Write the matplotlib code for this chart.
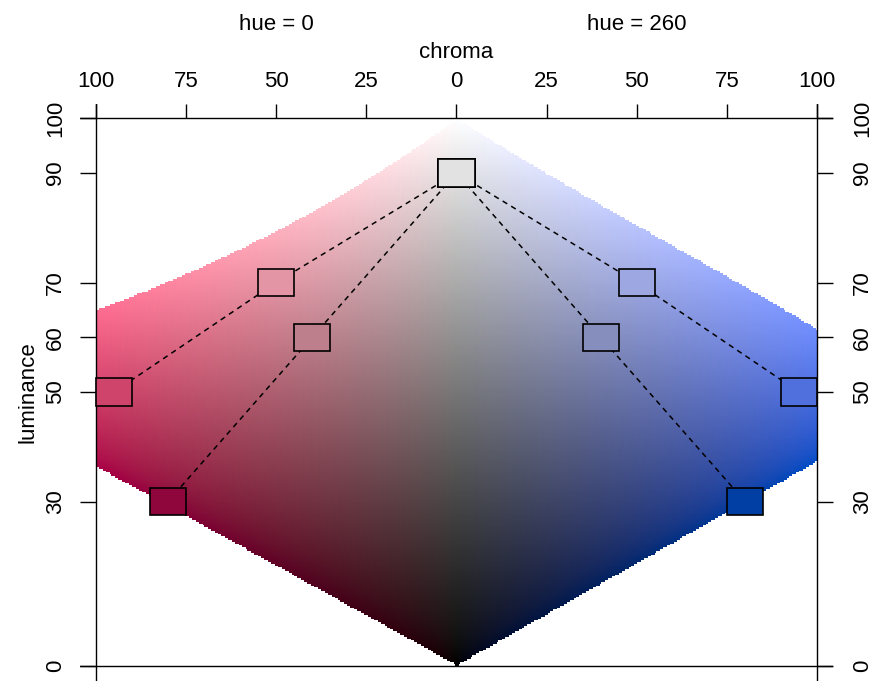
import numpy as np
import matplotlib
matplotlib.use("Agg")
import matplotlib.pyplot as plt
from matplotlib.patches import Rectangle

# ---- data -------------------------------------------------------------
hue_left = 0          # hue shown on the left half
hue_right = 260       # hue shown on the right half
path_a_chroma = [95, 50, 0]
path_a_lum = [50, 70, 90]
path_b_chroma = [80, 40, 0]
path_b_lum = [30, 60, 90]
chroma_ticks = [-100, -75, -50, -25, 0, 25, 50, 75, 100]
chroma_ticklabels = ["100", "75", "50", "25", "0", "25", "50", "75", "100"]
lum_ticks = [0, 30, 50, 60, 70, 90, 100]
lum_ticklabels = ["0", "30", "50", "60", "70", "90", "100"]

plt.rcParams["font.family"] = ["Liberation Sans", "DejaVu Sans"]
FS = 16


def hcl_to_rgb(h, c, l):
    h = np.asarray(h, float)
    c = np.asarray(c, float)
    l = np.asarray(l, float)
    XN, YN, ZN = 95.047, 100.0, 108.883
    U = c * np.cos(np.deg2rad(h))
    V = c * np.sin(np.deg2rad(h))
    Y = np.where(l > 7.999592, YN * ((l + 16) / 116) ** 3, YN * l / 903.3)
    den = XN + 15 * YN + 3 * ZN
    uN = 4 * XN / den
    vN = 9 * YN / den
    ls = np.where(l <= 0, 1e-9, l)
    u = U / (13 * ls) + uN
    v = V / (13 * ls) + vN
    X = 9.0 * Y * u / (4 * v)
    Z = -X / 3 - 5 * Y + 3 * Y / v
    X, Y, Z = X / 100, Y / 100, Z / 100
    R = 3.240479 * X - 1.537150 * Y - 0.498535 * Z
    G = -0.969256 * X + 1.875992 * Y + 0.041556 * Z
    B = 0.055648 * X - 0.204043 * Y + 1.057311 * Z
    lin = np.stack([R, G, B], axis=-1)
    black = (l <= 0) & (c <= 0.5)
    lin = np.where(black[..., None], 0.0, lin)
    ok = np.all((lin >= -1e-6) & (lin <= 1 + 1e-6), axis=-1)
    ok = ok & ~((l <= 0) & (c > 0.5))
    linc = np.clip(np.nan_to_num(lin), 0, 1)
    rgb = np.where(linc > 0.00304, 1.055 * linc ** (1 / 2.4) - 0.055, 12.92 * linc)
    return np.clip(rgb, 0, 1), ok


# ---- figure -------------------------------------------------------------
W, H = 876, 681
fig = plt.figure(figsize=(W / 100, H / 100), dpi=100)
ax = fig.add_axes([80 / W, 0, (833 - 80) / W, (681 - 104) / H])
ax.set_xlim(-104.35, 104.35)
ax.set_ylim(-2.74, 102.6)
for s in ax.spines.values():
    s.set_visible(False)

# HCL plane background
ncol, nrow = 420, 300
xs = np.linspace(-100, 100, ncol)
ys = np.linspace(0, 100, nrow)
XX, LL = np.meshgrid(xs, ys)
HH = np.where(XX < 0, hue_left, hue_right)
CC = np.abs(XX)
with np.errstate(all="ignore"):
    rgb, ok = hcl_to_rgb(HH, CC, LL)
rgba = np.concatenate([rgb, ok[..., None].astype(float)], axis=-1)
ax.imshow(rgba, extent=[-100, 100, 0, 100], origin="lower",
          interpolation="nearest", aspect="auto", zorder=0)

# frame lines
for yv in (0, 100):
    ax.axhline(yv, color="black", lw=1.0, zorder=2)
for xv in (-100, 100):
    ax.axvline(xv, color="black", lw=1.0, zorder=2)

# palette paths
for hue, sign in ((hue_left, -1), (hue_right, 1)):
    for cs, ls_ in ((path_a_chroma, path_a_lum), (path_b_chroma, path_b_lum)):
        xv = [sign * c for c in cs]
        ax.plot(xv, ls_, color="black", lw=1.1, linestyle=(0, (3.5, 3)), zorder=3)
        cols, _ = hcl_to_rgb(np.full(len(cs), hue), np.array(cs), np.array(ls_))
        for x, yv, col in zip(xv, ls_, cols):
            ax.add_patch(Rectangle((x - 5, yv - 2.5), 10, 5, facecolor=col,
                                   edgecolor="black", lw=1.2, zorder=4))

# ticks
ax.set_xticks(chroma_ticks)
ax.set_xticklabels(chroma_ticklabels)
ax.tick_params(axis="x", which="major", direction="in", length=10.3, width=1.0,
               top=True, bottom=False, labeltop=True, labelbottom=False,
               pad=12.2, labelsize=FS)
ax.set_xticks([0], minor=True)
ax.tick_params(axis="x", which="minor", direction="in", length=11, width=1.0,
               top=False, bottom=True, labelbottom=False)
for t in ax.xaxis.get_major_ticks():
    t.label2.set_va("baseline")

ax.set_yticks(lum_ticks)
ax.set_yticklabels(lum_ticklabels)
ax.tick_params(axis="y", direction="in", length=11.3, width=1.0,
               left=True, right=True, labelleft=True, labelright=True,
               pad=13.6, labelsize=FS)
for t in ax.yaxis.get_major_ticks():
    for lab, va in ((t.label1, "baseline"), (t.label2, "top")):
        lab.set_rotation(90)
        lab.set_rotation_mode("anchor")
        lab.set_ha("center")
        lab.set_va(va)

# titles
ax.annotate("hue = 0", xy=(-50, 1), xycoords=("data", "axes fraction"),
            xytext=(0, 53.3), textcoords="offset points", ha="center",
            va="baseline", fontsize=FS)
ax.annotate("hue = 260", xy=(50, 1), xycoords=("data", "axes fraction"),
            xytext=(0, 53.3), textcoords="offset points", ha="center",
            va="baseline", fontsize=FS)
ax.annotate("chroma", xy=(0, 1), xycoords=("data", "axes fraction"),
            xytext=(0, 32.9), textcoords="offset points", ha="center",
            va="baseline", fontsize=FS)
ax.annotate("luminance", xy=(0, 50), xycoords=("axes fraction", "data"),
            xytext=(-33.8, 0), textcoords="offset points", ha="center",
            va="baseline", rotation=90, rotation_mode="anchor", fontsize=FS)

fig.savefig("out.png", dpi=100)
